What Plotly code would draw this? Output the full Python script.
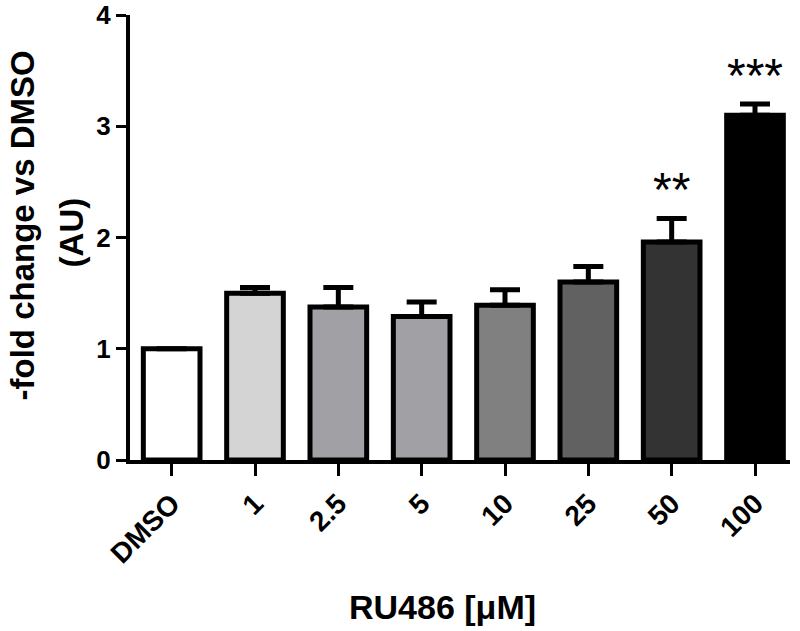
import plotly.graph_objects as go

categories = ["DMSO", "1", "2.5", "5", "10", "25", "50", "100"]
fold_change = [1.00, 1.50, 1.375, 1.29, 1.39, 1.60, 1.96, 3.10]
sem = [0.00, 0.05, 0.175, 0.13, 0.14, 0.14, 0.21, 0.10]
significance = ["", "", "", "", "", "", "**", "***"]
bar_colors = ["#ffffff", "#d4d4d4", "#a1a1a5", "#a1a1a5", "#808080", "#616161", "#333333", "#000000"]

font = "Liberation Sans, Arial, sans-serif"

fig = go.Figure()
fig.add_trace(go.Bar(
    x=categories, y=fold_change,
    marker=dict(color=bar_colors, line=dict(color="black", width=5)),
    width=0.68,
    error_y=dict(type="data", array=sem, arrayminus=[0] * len(sem),
                 color="black", thickness=5, width=15),
))

# significance stars above the error bars (x by category index)
for i, (val, err, sig) in enumerate(zip(fold_change, sem, significance)):
    if sig:
        fig.add_annotation(x=i, y=val + err, text=sig, showarrow=False,
                           yanchor="middle", yshift=29,
                           font=dict(family=font, size=48, color="black"))

fig.update_layout(
    width=800, height=631,
    margin=dict(l=130, r=10, t=15, b=171),
    plot_bgcolor="white", paper_bgcolor="white",
    showlegend=False,
    font=dict(family=font, color="black"),
)
fig.update_xaxes(
    range=[-0.5, 7.42], showline=True, linewidth=4, linecolor="black",
    ticks="outside", ticklen=12, tickwidth=3, tickcolor="black",
    tickangle=-45, tickfont=dict(size=28, family=font, weight="bold"),
    showgrid=False, automargin=False,
)
fig.update_yaxes(
    range=[0, 4], tickvals=[0, 1, 2, 3, 4], showline=True, linewidth=4,
    linecolor="black", ticks="outside", ticklen=10, tickwidth=3,
    tickcolor="black", tickfont=dict(size=26, family=font, weight="bold"),
    showgrid=False, zeroline=False, automargin=False,
)
fig.add_annotation(xref="paper", yref="paper", x=0.474, y=-0.33,
                   text="<b>RU486 [μM]</b>", showarrow=False,
                   font=dict(size=34, family=font), yanchor="middle")
fig.add_annotation(xref="paper", yref="paper", x=-0.163, y=0.528,
                   text="<b>-fold change vs DMSO</b>", showarrow=False,
                   textangle=-90, font=dict(size=33, family=font),
                   xanchor="center", yanchor="middle", borderpad=0)
fig.add_annotation(xref="paper", yref="paper", x=-0.089, y=0.512,
                   text="<b>(AU)</b>", showarrow=False,
                   textangle=-90, font=dict(size=33, family=font),
                   xanchor="center", yanchor="middle", borderpad=0)

# drop the default page margin so the figure fills the window
fig.write_html("out.html", config={"displayModeBar": False},
               post_script="document.body.style.margin='0';")
